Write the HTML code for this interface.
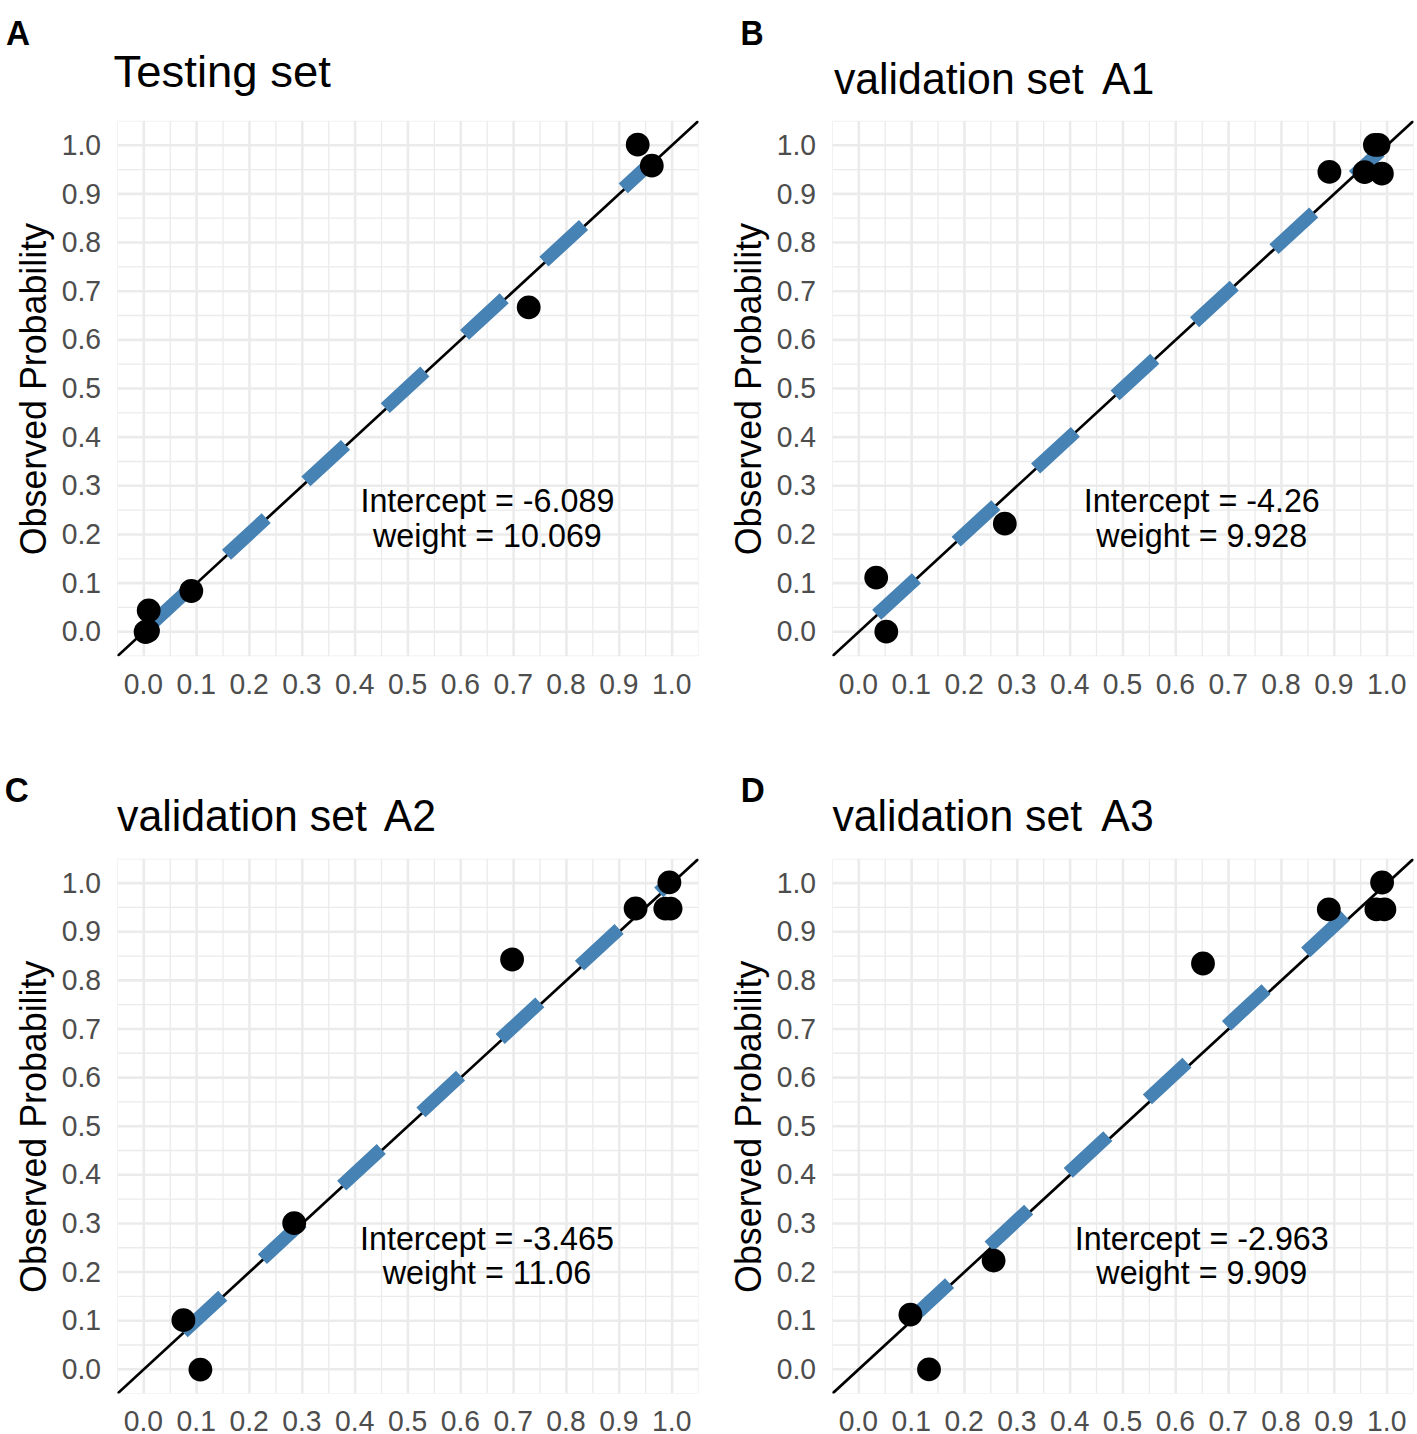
<!DOCTYPE html>
<html lang="en">
<head>
<meta charset="utf-8">
<title>Calibration plots</title>
<style>
html,body{margin:0;padding:0;background:#fff;}
svg{display:block;}
text{font-family:"Liberation Sans", Arial, Helvetica, sans-serif;}
.tick{fill:#4d4d4d;font-size:28.3px;}
.axt{fill:#000;font-size:35.8px;}
.ann{fill:#000;font-size:32.3px;}
.ttl{fill:#000;}
.ltr{fill:#000;font-weight:bold;font-size:32px;}
</style>
</head>
<body>
<svg width="1417" height="1434" viewBox="0 0 1417 1434">
<rect x="0" y="0" width="1417" height="1434" fill="#ffffff"/>
<!-- panel A -->
<g>
<clipPath id="clipA"><rect x="117.39" y="120.87" width="581.13" height="535.26"/></clipPath>
<g clip-path="url(#clipA)">
<path d="M117.39 656.13H698.52M117.39 120.87V656.13M117.39 607.47H698.52M170.22 120.87V656.13M117.39 558.81H698.52M223.05 120.87V656.13M117.39 510.15H698.52M275.88 120.87V656.13M117.39 461.49H698.52M328.71 120.87V656.13M117.39 412.83H698.52M381.53 120.87V656.13M117.39 364.17H698.52M434.37 120.87V656.13M117.39 315.51H698.52M487.19 120.87V656.13M117.39 266.85H698.52M540.02 120.87V656.13M117.39 218.19H698.52M592.86 120.87V656.13M117.39 169.53H698.52M645.68 120.87V656.13M117.39 120.87H698.52M698.52 120.87V656.13" stroke="#ebebeb" stroke-width="1.3" fill="none"/>
<path d="M117.39 631.80H698.52M143.80 120.87V656.13M117.39 583.14H698.52M196.63 120.87V656.13M117.39 534.48H698.52M249.46 120.87V656.13M117.39 485.82H698.52M302.29 120.87V656.13M117.39 437.16H698.52M355.12 120.87V656.13M117.39 388.50H698.52M407.95 120.87V656.13M117.39 339.84H698.52M460.78 120.87V656.13M117.39 291.18H698.52M513.61 120.87V656.13M117.39 242.52H698.52M566.44 120.87V656.13M117.39 193.86H698.52M619.27 120.87V656.13M117.39 145.20H698.52M672.10 120.87V656.13" stroke="#ebebeb" stroke-width="2.6" fill="none"/>
<line x1="117.39" y1="656.13" x2="698.52" y2="120.87" stroke="#000" stroke-width="2.7"/>
<line x1="147.2" y1="628.0" x2="652.5" y2="161.3" stroke="#4682b4" stroke-width="13.4" stroke-dasharray="54 54"/>
<circle cx="145.6" cy="632.0" r="11.9" fill="#000"/>
<circle cx="148.0" cy="630.8" r="11.9" fill="#000"/>
<circle cx="148.7" cy="610.5" r="11.9" fill="#000"/>
<circle cx="191.3" cy="591.0" r="11.9" fill="#000"/>
<circle cx="528.7" cy="307.3" r="11.9" fill="#000"/>
<circle cx="637.7" cy="144.6" r="11.9" fill="#000"/>
<circle cx="651.8" cy="165.7" r="11.9" fill="#000"/>
</g>
<text class="tick" transform="translate(101.0 641.4) scale(1 1.045)" text-anchor="end">0.0</text>
<text class="tick" transform="translate(143.4 693.6) scale(1 1.045)" text-anchor="middle">0.0</text>
<text class="tick" transform="translate(101.0 592.7) scale(1 1.045)" text-anchor="end">0.1</text>
<text class="tick" transform="translate(196.2 693.6) scale(1 1.045)" text-anchor="middle">0.1</text>
<text class="tick" transform="translate(101.0 544.1) scale(1 1.045)" text-anchor="end">0.2</text>
<text class="tick" transform="translate(249.1 693.6) scale(1 1.045)" text-anchor="middle">0.2</text>
<text class="tick" transform="translate(101.0 495.4) scale(1 1.045)" text-anchor="end">0.3</text>
<text class="tick" transform="translate(301.9 693.6) scale(1 1.045)" text-anchor="middle">0.3</text>
<text class="tick" transform="translate(101.0 446.8) scale(1 1.045)" text-anchor="end">0.4</text>
<text class="tick" transform="translate(354.7 693.6) scale(1 1.045)" text-anchor="middle">0.4</text>
<text class="tick" transform="translate(101.0 398.1) scale(1 1.045)" text-anchor="end">0.5</text>
<text class="tick" transform="translate(407.6 693.6) scale(1 1.045)" text-anchor="middle">0.5</text>
<text class="tick" transform="translate(101.0 349.4) scale(1 1.045)" text-anchor="end">0.6</text>
<text class="tick" transform="translate(460.4 693.6) scale(1 1.045)" text-anchor="middle">0.6</text>
<text class="tick" transform="translate(101.0 300.8) scale(1 1.045)" text-anchor="end">0.7</text>
<text class="tick" transform="translate(513.2 693.6) scale(1 1.045)" text-anchor="middle">0.7</text>
<text class="tick" transform="translate(101.0 252.1) scale(1 1.045)" text-anchor="end">0.8</text>
<text class="tick" transform="translate(566.0 693.6) scale(1 1.045)" text-anchor="middle">0.8</text>
<text class="tick" transform="translate(101.0 203.5) scale(1 1.045)" text-anchor="end">0.9</text>
<text class="tick" transform="translate(618.9 693.6) scale(1 1.045)" text-anchor="middle">0.9</text>
<text class="tick" transform="translate(101.0 154.8) scale(1 1.045)" text-anchor="end">1.0</text>
<text class="tick" transform="translate(671.7 693.6) scale(1 1.045)" text-anchor="middle">1.0</text>
<text class="axt" transform="translate(45.8 389.1) rotate(-90) scale(1 1.045)" text-anchor="middle">Observed Probability</text>
<text class="ann" transform="translate(487.4 512.3) scale(1 1.045)" text-anchor="middle">Intercept = -6.089</text>
<text class="ann" transform="translate(487.4 546.7) scale(1 1.045)" text-anchor="middle">weight = 10.069</text>
<text class="ttl" transform="translate(113.6 86.6) scale(1.043 1)" font-size="43.6px">Testing set</text>
<text class="ltr" transform="translate(6.0 44.6) scale(1.04 1.07)">A</text>
</g>
<!-- panel B -->
<g>
<clipPath id="clipB"><rect x="832.38" y="120.87" width="581.13" height="535.26"/></clipPath>
<g clip-path="url(#clipB)">
<path d="M832.38 656.13H1413.51M832.38 120.87V656.13M832.38 607.47H1413.51M885.21 120.87V656.13M832.38 558.81H1413.51M938.04 120.87V656.13M832.38 510.15H1413.51M990.88 120.87V656.13M832.38 461.49H1413.51M1043.70 120.87V656.13M832.38 412.83H1413.51M1096.53 120.87V656.13M832.38 364.17H1413.51M1149.37 120.87V656.13M832.38 315.51H1413.51M1202.19 120.87V656.13M832.38 266.85H1413.51M1255.02 120.87V656.13M832.38 218.19H1413.51M1307.86 120.87V656.13M832.38 169.53H1413.51M1360.68 120.87V656.13M832.38 120.87H1413.51M1413.51 120.87V656.13" stroke="#ebebeb" stroke-width="1.3" fill="none"/>
<path d="M832.38 631.80H1413.51M858.80 120.87V656.13M832.38 583.14H1413.51M911.63 120.87V656.13M832.38 534.48H1413.51M964.46 120.87V656.13M832.38 485.82H1413.51M1017.29 120.87V656.13M832.38 437.16H1413.51M1070.12 120.87V656.13M832.38 388.50H1413.51M1122.95 120.87V656.13M832.38 339.84H1413.51M1175.78 120.87V656.13M832.38 291.18H1413.51M1228.61 120.87V656.13M832.38 242.52H1413.51M1281.44 120.87V656.13M832.38 193.86H1413.51M1334.27 120.87V656.13M832.38 145.20H1413.51M1387.10 120.87V656.13" stroke="#ebebeb" stroke-width="2.6" fill="none"/>
<line x1="832.38" y1="656.13" x2="1413.51" y2="120.87" stroke="#000" stroke-width="2.7"/>
<line x1="876.7" y1="614.8" x2="1380.2" y2="151.3" stroke="#4682b4" stroke-width="13.4" stroke-dasharray="54 54"/>
<circle cx="876.2" cy="577.6" r="11.9" fill="#000"/>
<circle cx="886.3" cy="631.7" r="11.9" fill="#000"/>
<circle cx="1004.8" cy="523.7" r="11.9" fill="#000"/>
<circle cx="1329.4" cy="171.9" r="11.9" fill="#000"/>
<circle cx="1364.6" cy="172.2" r="11.9" fill="#000"/>
<circle cx="1381.9" cy="173.7" r="11.9" fill="#000"/>
<circle cx="1374.9" cy="144.9" r="11.9" fill="#000"/>
<circle cx="1378.5" cy="144.9" r="11.9" fill="#000"/>
</g>
<text class="tick" transform="translate(816.0 641.4) scale(1 1.045)" text-anchor="end">0.0</text>
<text class="tick" transform="translate(858.4 693.6) scale(1 1.045)" text-anchor="middle">0.0</text>
<text class="tick" transform="translate(816.0 592.7) scale(1 1.045)" text-anchor="end">0.1</text>
<text class="tick" transform="translate(911.2 693.6) scale(1 1.045)" text-anchor="middle">0.1</text>
<text class="tick" transform="translate(816.0 544.1) scale(1 1.045)" text-anchor="end">0.2</text>
<text class="tick" transform="translate(964.1 693.6) scale(1 1.045)" text-anchor="middle">0.2</text>
<text class="tick" transform="translate(816.0 495.4) scale(1 1.045)" text-anchor="end">0.3</text>
<text class="tick" transform="translate(1016.9 693.6) scale(1 1.045)" text-anchor="middle">0.3</text>
<text class="tick" transform="translate(816.0 446.8) scale(1 1.045)" text-anchor="end">0.4</text>
<text class="tick" transform="translate(1069.7 693.6) scale(1 1.045)" text-anchor="middle">0.4</text>
<text class="tick" transform="translate(816.0 398.1) scale(1 1.045)" text-anchor="end">0.5</text>
<text class="tick" transform="translate(1122.5 693.6) scale(1 1.045)" text-anchor="middle">0.5</text>
<text class="tick" transform="translate(816.0 349.4) scale(1 1.045)" text-anchor="end">0.6</text>
<text class="tick" transform="translate(1175.4 693.6) scale(1 1.045)" text-anchor="middle">0.6</text>
<text class="tick" transform="translate(816.0 300.8) scale(1 1.045)" text-anchor="end">0.7</text>
<text class="tick" transform="translate(1228.2 693.6) scale(1 1.045)" text-anchor="middle">0.7</text>
<text class="tick" transform="translate(816.0 252.1) scale(1 1.045)" text-anchor="end">0.8</text>
<text class="tick" transform="translate(1281.0 693.6) scale(1 1.045)" text-anchor="middle">0.8</text>
<text class="tick" transform="translate(816.0 203.5) scale(1 1.045)" text-anchor="end">0.9</text>
<text class="tick" transform="translate(1333.9 693.6) scale(1 1.045)" text-anchor="middle">0.9</text>
<text class="tick" transform="translate(816.0 154.8) scale(1 1.045)" text-anchor="end">1.0</text>
<text class="tick" transform="translate(1386.7 693.6) scale(1 1.045)" text-anchor="middle">1.0</text>
<text class="axt" transform="translate(760.8 389.1) rotate(-90) scale(1 1.045)" text-anchor="middle">Observed Probability</text>
<text class="ann" transform="translate(1201.8 512.3) scale(1 1.045)" text-anchor="middle">Intercept = -4.26</text>
<text class="ann" transform="translate(1201.8 546.7) scale(1 1.045)" text-anchor="middle">weight = 9.928</text>
<text class="ttl" transform="translate(833.9 94.2) scale(1 1.045)" font-size="42.8px">validation set <tspan dx="6.5">A1</tspan></text>
<text class="ltr" transform="translate(740.6 44.8) scale(1 1.07)">B</text>
</g>
<!-- panel C -->
<g>
<clipPath id="clipC"><rect x="117.39" y="858.79" width="581.13" height="534.82"/></clipPath>
<g clip-path="url(#clipC)">
<path d="M117.39 1393.61H698.52M117.39 858.79V1393.61M117.39 1344.99H698.52M170.22 858.79V1393.61M117.39 1296.37H698.52M223.05 858.79V1393.61M117.39 1247.75H698.52M275.88 858.79V1393.61M117.39 1199.13H698.52M328.71 858.79V1393.61M117.39 1150.51H698.52M381.53 858.79V1393.61M117.39 1101.89H698.52M434.37 858.79V1393.61M117.39 1053.27H698.52M487.19 858.79V1393.61M117.39 1004.65H698.52M540.02 858.79V1393.61M117.39 956.03H698.52M592.86 858.79V1393.61M117.39 907.41H698.52M645.68 858.79V1393.61M117.39 858.79H698.52M698.52 858.79V1393.61" stroke="#ebebeb" stroke-width="1.3" fill="none"/>
<path d="M117.39 1369.30H698.52M143.80 858.79V1393.61M117.39 1320.68H698.52M196.63 858.79V1393.61M117.39 1272.06H698.52M249.46 858.79V1393.61M117.39 1223.44H698.52M302.29 858.79V1393.61M117.39 1174.82H698.52M355.12 858.79V1393.61M117.39 1126.20H698.52M407.95 858.79V1393.61M117.39 1077.58H698.52M460.78 858.79V1393.61M117.39 1028.96H698.52M513.61 858.79V1393.61M117.39 980.34H698.52M566.44 858.79V1393.61M117.39 931.72H698.52M619.27 858.79V1393.61M117.39 883.10H698.52M672.10 858.79V1393.61" stroke="#ebebeb" stroke-width="2.6" fill="none"/>
<line x1="117.39" y1="1393.61" x2="698.52" y2="858.79" stroke="#000" stroke-width="2.7"/>
<line x1="183.1" y1="1332.4" x2="667.4" y2="884.3" stroke="#4682b4" stroke-width="13.4" stroke-dasharray="54 54"/>
<circle cx="183.4" cy="1320.2" r="11.9" fill="#000"/>
<circle cx="200.4" cy="1369.6" r="11.9" fill="#000"/>
<circle cx="294.2" cy="1223.2" r="11.9" fill="#000"/>
<circle cx="512.1" cy="959.5" r="11.9" fill="#000"/>
<circle cx="635.6" cy="908.5" r="11.9" fill="#000"/>
<circle cx="669.4" cy="882.3" r="11.9" fill="#000"/>
<circle cx="665.3" cy="908.6" r="11.9" fill="#000"/>
<circle cx="670.6" cy="908.6" r="11.9" fill="#000"/>
</g>
<text class="tick" transform="translate(101.0 1378.9) scale(1 1.045)" text-anchor="end">0.0</text>
<text class="tick" transform="translate(143.4 1431.1) scale(1 1.045)" text-anchor="middle">0.0</text>
<text class="tick" transform="translate(101.0 1330.3) scale(1 1.045)" text-anchor="end">0.1</text>
<text class="tick" transform="translate(196.2 1431.1) scale(1 1.045)" text-anchor="middle">0.1</text>
<text class="tick" transform="translate(101.0 1281.7) scale(1 1.045)" text-anchor="end">0.2</text>
<text class="tick" transform="translate(249.1 1431.1) scale(1 1.045)" text-anchor="middle">0.2</text>
<text class="tick" transform="translate(101.0 1233.0) scale(1 1.045)" text-anchor="end">0.3</text>
<text class="tick" transform="translate(301.9 1431.1) scale(1 1.045)" text-anchor="middle">0.3</text>
<text class="tick" transform="translate(101.0 1184.4) scale(1 1.045)" text-anchor="end">0.4</text>
<text class="tick" transform="translate(354.7 1431.1) scale(1 1.045)" text-anchor="middle">0.4</text>
<text class="tick" transform="translate(101.0 1135.8) scale(1 1.045)" text-anchor="end">0.5</text>
<text class="tick" transform="translate(407.6 1431.1) scale(1 1.045)" text-anchor="middle">0.5</text>
<text class="tick" transform="translate(101.0 1087.2) scale(1 1.045)" text-anchor="end">0.6</text>
<text class="tick" transform="translate(460.4 1431.1) scale(1 1.045)" text-anchor="middle">0.6</text>
<text class="tick" transform="translate(101.0 1038.6) scale(1 1.045)" text-anchor="end">0.7</text>
<text class="tick" transform="translate(513.2 1431.1) scale(1 1.045)" text-anchor="middle">0.7</text>
<text class="tick" transform="translate(101.0 989.9) scale(1 1.045)" text-anchor="end">0.8</text>
<text class="tick" transform="translate(566.0 1431.1) scale(1 1.045)" text-anchor="middle">0.8</text>
<text class="tick" transform="translate(101.0 941.3) scale(1 1.045)" text-anchor="end">0.9</text>
<text class="tick" transform="translate(618.9 1431.1) scale(1 1.045)" text-anchor="middle">0.9</text>
<text class="tick" transform="translate(101.0 892.7) scale(1 1.045)" text-anchor="end">1.0</text>
<text class="tick" transform="translate(671.7 1431.1) scale(1 1.045)" text-anchor="middle">1.0</text>
<text class="axt" transform="translate(45.8 1126.8) rotate(-90) scale(1 1.045)" text-anchor="middle">Observed Probability</text>
<text class="ann" transform="translate(487.0 1250.0) scale(1 1.045)" text-anchor="middle">Intercept = -3.465</text>
<text class="ann" transform="translate(487.0 1284.4) scale(1 1.045)" text-anchor="middle">weight = 11.06</text>
<text class="ttl" transform="translate(117.1 831.0) scale(1 1.045)" font-size="42.8px">validation set <tspan dx="5">A2</tspan></text>
<text class="ltr" transform="translate(4.8 801.6) scale(1.04 1.098)">C</text>
</g>
<!-- panel D -->
<g>
<clipPath id="clipD"><rect x="832.38" y="858.79" width="581.13" height="534.82"/></clipPath>
<g clip-path="url(#clipD)">
<path d="M832.38 1393.61H1413.51M832.38 858.79V1393.61M832.38 1344.99H1413.51M885.21 858.79V1393.61M832.38 1296.37H1413.51M938.04 858.79V1393.61M832.38 1247.75H1413.51M990.88 858.79V1393.61M832.38 1199.13H1413.51M1043.70 858.79V1393.61M832.38 1150.51H1413.51M1096.53 858.79V1393.61M832.38 1101.89H1413.51M1149.37 858.79V1393.61M832.38 1053.27H1413.51M1202.19 858.79V1393.61M832.38 1004.65H1413.51M1255.02 858.79V1393.61M832.38 956.03H1413.51M1307.86 858.79V1393.61M832.38 907.41H1413.51M1360.68 858.79V1393.61M832.38 858.79H1413.51M1413.51 858.79V1393.61" stroke="#ebebeb" stroke-width="1.3" fill="none"/>
<path d="M832.38 1369.30H1413.51M858.80 858.79V1393.61M832.38 1320.68H1413.51M911.63 858.79V1393.61M832.38 1272.06H1413.51M964.46 858.79V1393.61M832.38 1223.44H1413.51M1017.29 858.79V1393.61M832.38 1174.82H1413.51M1070.12 858.79V1393.61M832.38 1126.20H1413.51M1122.95 858.79V1393.61M832.38 1077.58H1413.51M1175.78 858.79V1393.61M832.38 1028.96H1413.51M1228.61 858.79V1393.61M832.38 980.34H1413.51M1281.44 858.79V1393.61M832.38 931.72H1413.51M1334.27 858.79V1393.61M832.38 883.10H1413.51M1387.10 858.79V1393.61" stroke="#ebebeb" stroke-width="2.6" fill="none"/>
<line x1="832.38" y1="1393.61" x2="1413.51" y2="858.79" stroke="#000" stroke-width="2.7"/>
<line x1="910.0" y1="1319.8" x2="1345.2" y2="915.6" stroke="#4682b4" stroke-width="13.4" stroke-dasharray="54 54"/>
<circle cx="910.4" cy="1314.7" r="11.9" fill="#000"/>
<circle cx="929.0" cy="1369.4" r="11.9" fill="#000"/>
<circle cx="993.6" cy="1260.6" r="11.9" fill="#000"/>
<circle cx="1203.0" cy="963.5" r="11.9" fill="#000"/>
<circle cx="1328.8" cy="909.3" r="11.9" fill="#000"/>
<circle cx="1382.1" cy="882.5" r="11.9" fill="#000"/>
<circle cx="1376.4" cy="909.4" r="11.9" fill="#000"/>
<circle cx="1384.4" cy="909.4" r="11.9" fill="#000"/>
</g>
<text class="tick" transform="translate(816.0 1378.9) scale(1 1.045)" text-anchor="end">0.0</text>
<text class="tick" transform="translate(858.4 1431.1) scale(1 1.045)" text-anchor="middle">0.0</text>
<text class="tick" transform="translate(816.0 1330.3) scale(1 1.045)" text-anchor="end">0.1</text>
<text class="tick" transform="translate(911.2 1431.1) scale(1 1.045)" text-anchor="middle">0.1</text>
<text class="tick" transform="translate(816.0 1281.7) scale(1 1.045)" text-anchor="end">0.2</text>
<text class="tick" transform="translate(964.1 1431.1) scale(1 1.045)" text-anchor="middle">0.2</text>
<text class="tick" transform="translate(816.0 1233.0) scale(1 1.045)" text-anchor="end">0.3</text>
<text class="tick" transform="translate(1016.9 1431.1) scale(1 1.045)" text-anchor="middle">0.3</text>
<text class="tick" transform="translate(816.0 1184.4) scale(1 1.045)" text-anchor="end">0.4</text>
<text class="tick" transform="translate(1069.7 1431.1) scale(1 1.045)" text-anchor="middle">0.4</text>
<text class="tick" transform="translate(816.0 1135.8) scale(1 1.045)" text-anchor="end">0.5</text>
<text class="tick" transform="translate(1122.5 1431.1) scale(1 1.045)" text-anchor="middle">0.5</text>
<text class="tick" transform="translate(816.0 1087.2) scale(1 1.045)" text-anchor="end">0.6</text>
<text class="tick" transform="translate(1175.4 1431.1) scale(1 1.045)" text-anchor="middle">0.6</text>
<text class="tick" transform="translate(816.0 1038.6) scale(1 1.045)" text-anchor="end">0.7</text>
<text class="tick" transform="translate(1228.2 1431.1) scale(1 1.045)" text-anchor="middle">0.7</text>
<text class="tick" transform="translate(816.0 989.9) scale(1 1.045)" text-anchor="end">0.8</text>
<text class="tick" transform="translate(1281.0 1431.1) scale(1 1.045)" text-anchor="middle">0.8</text>
<text class="tick" transform="translate(816.0 941.3) scale(1 1.045)" text-anchor="end">0.9</text>
<text class="tick" transform="translate(1333.9 1431.1) scale(1 1.045)" text-anchor="middle">0.9</text>
<text class="tick" transform="translate(816.0 892.7) scale(1 1.045)" text-anchor="end">1.0</text>
<text class="tick" transform="translate(1386.7 1431.1) scale(1 1.045)" text-anchor="middle">1.0</text>
<text class="axt" transform="translate(760.8 1126.8) rotate(-90) scale(1 1.045)" text-anchor="middle">Observed Probability</text>
<text class="ann" transform="translate(1201.8 1250.0) scale(1 1.045)" text-anchor="middle">Intercept = -2.963</text>
<text class="ann" transform="translate(1201.8 1284.4) scale(1 1.045)" text-anchor="middle">weight = 9.909</text>
<text class="ttl" transform="translate(832.4 831.0) scale(1 1.045)" font-size="42.8px">validation set <tspan dx="7.3">A3</tspan></text>
<text class="ltr" transform="translate(740.7 801.8) scale(1.04 1.07)">D</text>
</g>
</svg>
</body>
</html>
